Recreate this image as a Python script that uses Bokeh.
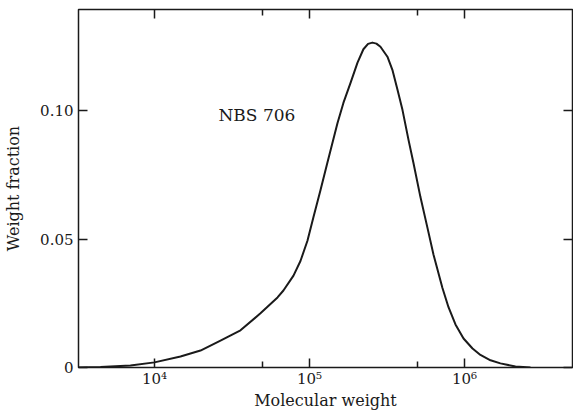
from bokeh.plotting import figure
from bokeh.models import FixedTicker, LinearAxis, LogAxis, Label, Range1d
from bokeh.embed import file_html
from bokeh.resources import INLINE

# Data (log10 of molecular weight, weight fraction)
log_mw = [3.510, 3.652, 3.845, 4.000, 4.168, 4.297, 4.426, 4.555, 4.684, 4.794,
          4.832, 4.897, 4.942, 4.987, 5.026, 5.071, 5.116, 5.181, 5.219,
          5.265, 5.310, 5.348, 5.378, 5.406, 5.432, 5.458, 5.503, 5.535, 5.568,
          5.600, 5.639, 5.671, 5.716, 5.761, 5.800, 5.858, 5.897, 5.942, 5.994,
          6.052, 6.103, 6.168, 6.232, 6.329, 6.426]
weight_fraction = [0.0, 0.0002, 0.0008, 0.0020, 0.0043, 0.0066, 0.0105, 0.0145,
                   0.0211, 0.0273, 0.0300, 0.0358, 0.0415, 0.0494, 0.0586, 0.0691,
                   0.0799, 0.0953, 0.1031, 0.1109, 0.1188, 0.1240, 0.1261, 0.1266,
                   0.1262, 0.1250, 0.1211, 0.1160, 0.1082, 0.1004, 0.0887, 0.0797,
                   0.0664, 0.0545, 0.0440, 0.0310, 0.0235, 0.0168, 0.0113, 0.0074,
                   0.0049, 0.0028, 0.0016, 0.0004, 0.0]
molecular_weight = [10 ** v for v in log_mw]

x_major = [1e4, 1e5, 1e6]
x_minor = [5e4, 5e5]
x_labels = {1e4: "10\u2074", 1e5: "10\u2075", 1e6: "10\u2076"}
y_major = [0.0, 0.05, 0.10]
y_labels = {0.0: "0", 0.05: "0.05", 0.10: "0.10"}
series_name = "NBS 706"
x_title = "Molecular weight"
y_title = "Weight fraction"

FONT = "DejaVu Serif"
INK = "#1a1a1a"

p = figure(width=573, height=412, x_axis_type="log",
           x_range=Range1d(10 ** 3.51, 10 ** 6.697), y_range=Range1d(0, 0.1395),
           output_backend="svg", toolbar_location=None,
           min_border_left=78, min_border_right=1, min_border_top=9,
           min_border_bottom=45)
p.background_fill_color = "white"
p.border_fill_color = "white"
p.outline_line_color = INK
p.outline_line_width = 1.5
p.xgrid.visible = False
p.ygrid.visible = False

p.line(molecular_weight, weight_fraction, line_color=INK, line_width=2,
       line_join="round")

def style_axis(ax, labels=True):
    ax.axis_line_color = None
    ax.major_tick_in = 9
    ax.major_tick_out = 0
    ax.minor_tick_in = 6
    ax.minor_tick_out = 0
    ax.major_tick_line_color = INK
    ax.minor_tick_line_color = INK
    ax.major_tick_line_width = 1.5
    ax.minor_tick_line_width = 1.5
    ax.major_label_text_font = FONT
    ax.major_label_text_font_size = "15px"
    ax.major_label_text_color = INK
    ax.axis_label_text_font = FONT
    ax.axis_label_text_font_style = "normal"
    ax.axis_label_text_font_size = "16px"
    ax.axis_label_text_color = INK
    if not labels:
        ax.major_label_text_font_size = "1px"
        ax.major_label_text_alpha = 0
        ax.major_label_standoff = 0

xa = p.xaxis[0]
xa.ticker = FixedTicker(ticks=x_major, minor_ticks=x_minor)
xa.major_label_overrides = x_labels
xa.axis_label = x_title
xa.major_label_standoff = 2
xa.axis_label_standoff = 0
style_axis(xa)

ya = p.yaxis[0]
ya.ticker = FixedTicker(ticks=y_major, minor_ticks=[])
ya.major_label_overrides = y_labels
ya.axis_label = y_title
ya.major_label_standoff = 5
ya.axis_label_standoff = 14
style_axis(ya)

top = LogAxis(ticker=FixedTicker(ticks=x_major, minor_ticks=x_minor))
style_axis(top, labels=False)
p.add_layout(top, "above")
right = LinearAxis(ticker=FixedTicker(ticks=y_major, minor_ticks=[]))
style_axis(right, labels=False)
p.add_layout(right, "right")

p.add_layout(Label(x=10 ** 4.413, y=0.0984, text=series_name, text_font=FONT,
                   text_font_size="17px", text_color=INK, text_align="left",
                   text_baseline="middle"))

open("out.html", "w").write(file_html(p, INLINE))
